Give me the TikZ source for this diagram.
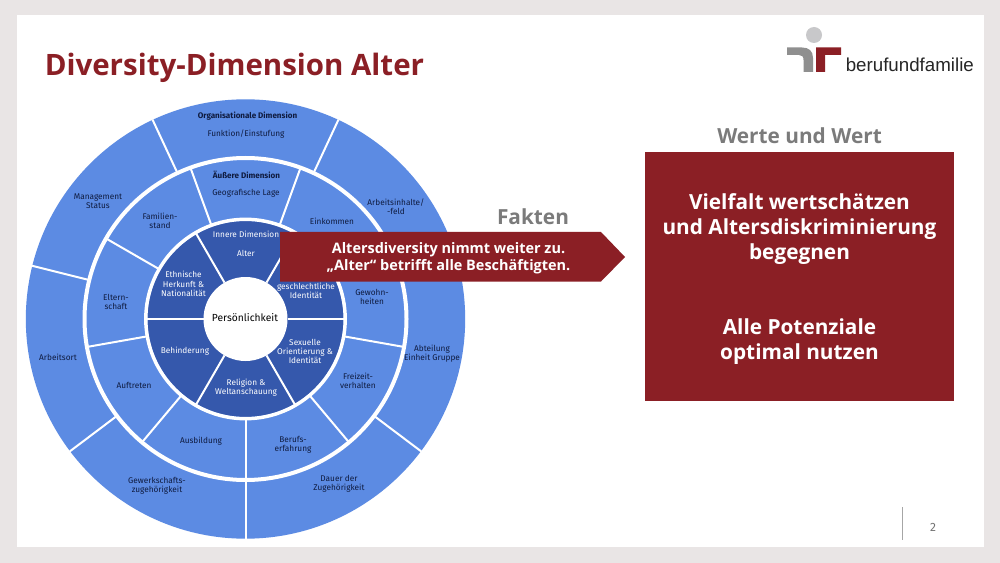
\documentclass[tikz,border=0pt]{standalone}
\usepackage{fontspec}
\setmainfont{Open Sans}
\newfontfamily\labelfont{Fira Sans}
\newfontfamily\logofont{Liberation Sans}
\definecolor{pagegray}{HTML}{E9E5E5}
\definecolor{ringblue}{HTML}{5C8BE3}
\definecolor{coreblue}{HTML}{3558AC}
\definecolor{darkred}{HTML}{8B1F25}
\definecolor{titlegray}{HTML}{7B7B7B}
\definecolor{inkblue}{HTML}{0F1B3F}
\definecolor{logogray}{HTML}{8F8F8F}
\definecolor{logodot}{HTML}{C8C8CA}

\begin{document}
\begin{tikzpicture}[x=0.75pt, y=-0.75pt,
    seg/.style={font=\labelfont\fontsize{6.2pt}{6.9pt}\selectfont, text=inkblue, align=center, inner sep=0pt},
    coreseg/.style={seg, text=white},
    boldseg/.style={seg, font=\labelfont\bfseries\fontsize{6.05pt}{7pt}\selectfont},
    spoke/.style={white, line width=1.5pt},
    heading/.style={font=\bfseries\fontsize{15.6pt}{18pt}\selectfont, text=titlegray, inner sep=0pt},
    boxtext/.style={font=\bfseries\fontsize{15.6pt}{18.75pt}\selectfont, text=white, align=center, inner sep=0pt}]
    \useasboundingbox (0, 0) rectangle (1000, 563);
    \fill[pagegray] (0, 0) rectangle (1000, 563);
    \fill[white] (17, 15) rectangle (984, 547);

    \begin{scope}[shift={(245.5, 319)}, x=0.75pt, y=0.75pt]
        \fill[ringblue] (0, 0) circle (219.7);
        \draw[white, line width=3pt] (0, 0) circle (161);
        \fill[coreblue] (0, 0) circle (98);
        \draw[white, line width=2.6pt] (0, 0) circle (99.7);
        \fill[white] (0, 0) circle (42);

        \draw[spoke] (65:161) -- (65:220);
        \draw[spoke] (115:161) -- (115:220);
        \draw[spoke] (166:161) -- (166:220);
        \draw[spoke] (217:161) -- (217:220);
        \draw[spoke] (270:161) -- (270:220);
        \draw[spoke] (323:161) -- (323:220);
        \draw[spoke] (14:161) -- (14:220);

        \draw[spoke] (30:100) -- (30:161);
        \draw[spoke] (70:100) -- (70:161);
        \draw[spoke] (110:100) -- (110:161);
        \draw[spoke] (150:100) -- (150:161);
        \draw[spoke] (190:100) -- (190:161);
        \draw[spoke] (230:100) -- (230:161);
        \draw[spoke] (270:100) -- (270:161);
        \draw[spoke] (310:100) -- (310:161);
        \draw[spoke] (350:100) -- (350:161);

        \draw[spoke] (0:42) -- (0:99);
        \draw[spoke] (60:42) -- (60:99);
        \draw[spoke] (120:42) -- (120:99);
        \draw[spoke] (180:42) -- (180:99);
        \draw[spoke] (240:42) -- (240:99);
        \draw[spoke] (300:42) -- (300:99);
    \end{scope}

    \node[boldseg] (orga) at (247.5, 116) {Organisationale Dimension};
    \node[seg] (funktion) at (246, 134) {Funktion/Einstufung};
    \node[seg] (management) at (98, 201) {Management\\Status};
    \node[seg] (arbeitsinhalte) at (396, 207) {Arbeitsinhalte/\\-feld};
    \node[seg] (arbeitsort) at (58, 357) {Arbeitsort};
    \node[seg] (abteilung) at (432, 354) {Abteilung\\Einheit Gruppe};
    \node[seg] (gewerkschaft) at (157, 486) {Gewerkschafts-\\zugehörigkeit};
    \node[seg] (dauer) at (339, 484) {Dauer der\\Zugehörigkeit};

    \node[boldseg] (aeussere) at (246.5, 175) {Äußere Dimension};
    \node[seg] (geografie) at (246, 193) {Geografische Lage};
    \node[seg] (familie) at (160, 221) {Familien-\\stand};
    \node[seg] (einkommen) at (332, 221) {Einkommen};
    \node[seg] (eltern) at (116, 302) {Eltern-\\schaft};
    \node[seg] (gewohnheit) at (372, 297) {Gewohn-\\heiten};
    \node[seg] (auftreten) at (134, 385) {Auftreten};
    \node[seg] (freizeit) at (358, 381) {Freizeit-\\verhalten};
    \node[seg] (ausbildung) at (201, 441) {Ausbildung};
    \node[seg] (beruf) at (293, 445) {Berufs-\\erfahrung};

    \node[coreseg] (innere) at (246, 234) {Innere Dimension};
    \node[coreseg] (alter) at (246, 253) {Alter};
    \node[coreseg] (ethnie) at (183.5, 284) {Ethnische\\Herkunft \&\\Nationalität};
    \node[coreseg] (geschlecht) at (306, 291) {geschlechtliche\\Identität};
    \node[coreseg] (behinderung) at (185, 351) {Behinderung};
    \node[coreseg] (religion) at (246, 388) {Religion \&\\Weltanschauung};
    \node[coreseg] (sexuell) at (305, 351.5) {Sexuelle\\Orientierung \&\\Identität};
    \node[seg, text=black, font=\labelfont\fontsize{7.7pt}{9pt}\selectfont] (person) at (245, 318) {Persönlichkeit};

    \fill[darkred] (280, 232) -- (601, 232) -- (625, 257) -- (601, 281.5) -- (280, 281.5) -- cycle;
    \node[boxtext, font=\bfseries\fontsize{10.85pt}{13pt}\selectfont] (fakten) at (448.5, 258.5) {Altersdiversity nimmt weiter zu.\\„Alter“ betrifft alle Beschäftigten.};

    \node[font=\bfseries\fontsize{22.1pt}{27pt}\selectfont, text=darkred, anchor=base west, inner sep=0pt] (title) at (44.5, 75.5) {Diversity-Dimension Alter};
    \node[heading] (faktenhead) at (533, 217) {Fakten};
    \node[heading] (wertehead) at (799.5, 136) {Werte und Wert};

    \fill[darkred] (645, 152) rectangle (954, 401);
    \node[boxtext] (vielfalt) at (799.5, 229) {Vielfalt wertschätzen\\und Altersdiskriminierung\\begegnen};
    \node[boxtext] (potenzial) at (799.5, 341.5) {Alle Potenziale\\optimal nutzen};

    \fill[logodot] (814, 35) circle (8);
    \fill[logogray] (787, 47.5) -- (802, 47.5) .. controls (809, 47.5) and (813, 51) .. (813, 58) -- (813, 72) -- (803.5, 72) -- (803.5, 60) .. controls (803.5, 56.5) and (802, 55) .. (799, 55) -- (787, 55) -- cycle;
    \fill[darkred] (816, 72) -- (816, 47.5) -- (841, 47.5) -- (841, 55) -- (825, 55) -- (825, 72) -- cycle;
    \node[font=\logofont\fontsize{14.05pt}{16pt}\selectfont, text=black!85, anchor=base west, inner sep=0pt] (logo) at (845.5, 72) {berufundfamilie};

    \draw[black!35, line width=0.6pt] (902, 507) -- (902, 540);
    \node[font=\labelfont\fontsize{9pt}{11pt}\selectfont, text=black!55, inner sep=0pt] (page) at (933, 527) {2};
\end{tikzpicture}
\end{document}
